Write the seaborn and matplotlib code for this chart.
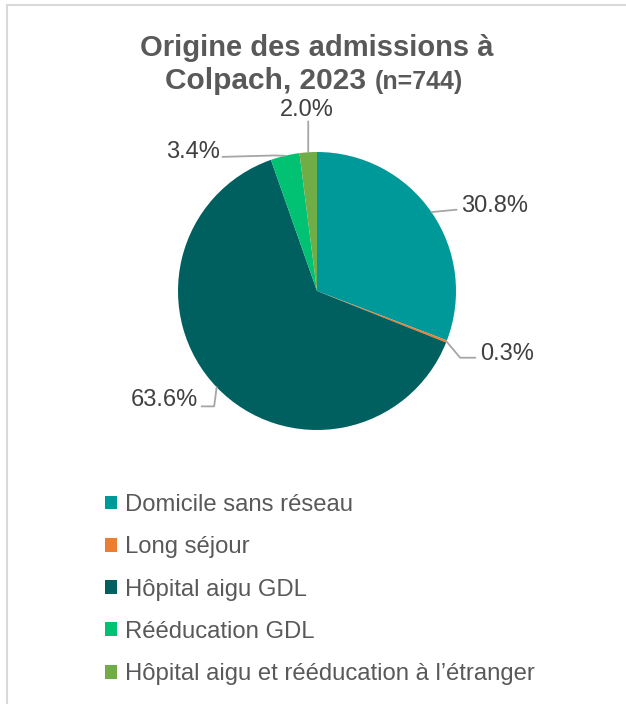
import matplotlib
matplotlib.use("Agg")
import matplotlib.pyplot as plt
import seaborn as sns
import numpy as np
from matplotlib.patches import Patch, Rectangle
from matplotlib.lines import Line2D

# ---------------- data ----------------
categories = ["Domicile sans réseau", "Long séjour", "Hôpital aigu GDL",
              "Rééducation GDL", "Hôpital aigu et rééducation à l’étranger"]
counts = [229, 2, 473, 25, 15]          # n = 744
pct_labels = ["30.8%", "0.3%", "63.6%", "3.4%", "2.0%"]
colors = ["#009999", "#ED7D31", "#005F5F", "#00C272", "#70AD47"]
title_line1 = "Origine des admissions à"
title_line2a = "Colpach, 2023"
title_line2b = "(n=744)"

sns.set_theme(style="white")
plt.rcParams['font.family'] = ['Liberation Sans', 'DejaVu Sans']

W, H = 626, 704
fig = plt.figure(figsize=(W / 100, H / 100), dpi=100)
fig.patch.set_facecolor("white")

# chart-area border (top/left visible)
fig.add_artist(Rectangle((6.5 / W, -0.1), 1.2, (H - 5.5) / H + 0.1,
                         transform=fig.transFigure, fill=False,
                         edgecolor="#D9D9D9", linewidth=1.5))

# pie axes: centre at (317, 291) px, radius 139 px
R = 139.0
cx, cy = 317, H - 291
half = 200
ax = fig.add_axes([(cx - half) / W, (cy - half) / H, 2 * half / W, 2 * half / H])
lim = half / R
ax.pie(counts, colors=colors, startangle=90, counterclock=False, radius=1,
       wedgeprops=dict(linewidth=0))
ax.set_xlim(-lim, lim)
ax.set_ylim(-lim, lim)
ax.set_aspect("equal")
ax.axis("off")

# label layout (data units, radius = 1): text position, alignment, leader path points
label_layout = [
    dict(xy=(1.035, 0.61), ha="left",
         path=[(1.005, 0.585)]),                       # 30.8%
    dict(xy=(1.17, -0.455), ha="left",
         path=[(1.03, -0.48), (1.14, -0.48)]),        # 0.3%
    dict(xy=(-0.855, -0.785), ha="right",
         path=[(-0.74, -0.83), (-0.83, -0.83)]),      # 63.6%
    dict(xy=(-0.695, 1.0), ha="right",
         path=[(-0.31, 0.975), (-0.68, 0.965)]),      # 3.4%
    dict(xy=(-0.07, 1.30), ha="center",
         path=[(-0.063, 1.22)]),                      # 2.0%
]

total = sum(counts)
start = 90.0
for val, lab, lay in zip(counts, pct_labels, label_layout):
    span = 360.0 * val / total
    mid = np.deg2rad(start - span / 2)
    start -= span
    p0 = (np.cos(mid), np.sin(mid))
    pts = [p0] + lay["path"]
    xs, ys = zip(*pts)
    ax.add_line(Line2D(xs, ys, color="#A6A6A6", linewidth=1.3, clip_on=False))
    ax.text(lay["xy"][0], lay["xy"][1], lab, ha=lay["ha"], va="center",
            fontsize=17, color="#404040", clip_on=False)

# title
title_color = "#595959"
fig.text(317 / W, 1 - 56 / H, title_line1, ha="center", va="baseline",
         fontsize=21, fontweight="bold", color=title_color)
t2a = fig.text(0, 1 - 89 / H, title_line2a, ha="left", va="baseline",
               fontsize=21.5, fontweight="bold", color=title_color)
t2b = fig.text(0, 1 - 89 / H, title_line2b, ha="left", va="baseline",
               fontsize=18, fontweight="bold", color=title_color)
fig.canvas.draw()
r = fig.canvas.get_renderer()
w_a = t2a.get_window_extent(r).width
w_b = t2b.get_window_extent(r).width
gap = 8
x0 = 314 - (w_a + gap + w_b) / 2
t2a.set_x(x0 / W)
t2b.set_x((x0 + w_a + gap) / W)

# legend
handles = [Patch(facecolor=c, edgecolor="none") for c in colors]
leg = fig.legend(handles, categories, loc="upper left",
                 bbox_to_anchor=(105 / W, 1 - 494 / H), frameon=False,
                 fontsize=17.2, handlelength=0.52, handleheight=0.52,
                 handletextpad=0.3, labelspacing=0.85, borderaxespad=0,
                 borderpad=0)
for t in leg.get_texts():
    t.set_color("#595959")

fig.savefig("out.png", dpi=100, facecolor="white")
